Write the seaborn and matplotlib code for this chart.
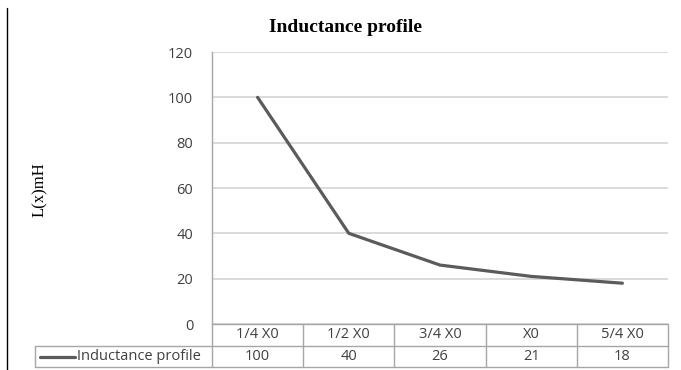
import matplotlib
matplotlib.use("Agg")
import matplotlib.pyplot as plt
import matplotlib.transforms as mtransforms
from matplotlib.lines import Line2D
import seaborn as sns
import pandas as pd

positions = ["1/4 X0", "1/2 X0", "3/4 X0", "X0", "5/4 X0"]
inductance = [100, 40, 26, 21, 18]
series_name = "Inductance profile"
y_ticks = [0, 20, 40, 60, 80, 100, 120]

W, H = 681, 370
sns.set_theme(style="white")
plt.rcParams["font.family"] = ["Open Sans", "DejaVu Sans"]

fig = plt.figure(figsize=(W / 100, H / 100), dpi=100)

def fx(px):
    return px / W

def fy(py):
    return 1 - py / H

left, right, top, bottom = 212, 668, 52, 324
ax = fig.add_axes([fx(left), fy(bottom), fx(right) - fx(left), fy(top) - fy(bottom)])

df = pd.DataFrame({"pos": positions, "L": inductance})
sns.lineplot(data=df, x="pos", y="L", ax=ax, color="#5b5b5b", linewidth=2.3,
             sort=False, legend=False)

ax.set_xlim(-0.5, len(positions) - 0.5)
ax.set_ylim(0, 120)
ax.set_yticks(y_ticks)
ax.set_yticklabels([str(v) for v in y_ticks], fontsize=10.5, color="#404040")
ax.tick_params(axis="y", length=0, pad=13.5)
ax.set_xticks([])
ax.set_xlabel("")
ax.set_ylabel("")
ax.grid(axis="y", color="#d4d4d4", linewidth=1.2)
ax.grid(axis="x", visible=False)
for side in ["top", "right", "bottom"]:
    ax.spines[side].set_visible(False)
ax.spines["left"].set_color("#a6a6a6")
ax.spines["left"].set_linewidth(1.0)

# Title and axis label
fig.text(fx(345), fy(27), "Inductance profile", ha="center", va="center",
         fontsize=14, fontweight="bold", family="Liberation Serif", color="#000000")
fig.text(fx(40), fy(190), "L(x)mH", ha="center", va="center", rotation=90,
         fontsize=12, family="Liberation Serif", color="#000000")

# Left border rule
fig.add_artist(Line2D([fx(7), fx(7)], [fy(8), fy(370)], color="#000000", linewidth=1.0))

# Data table below the plot
grid_c = "#a6a6a6"
r0, r1, r2 = 324, 346, 367
tleft = 35

def hline(x0, x1, y):
    fig.add_artist(Line2D([fx(x0), fx(x1)], [fy(y), fy(y)], color=grid_c, linewidth=1.0))

def vline(x, y0, y1):
    fig.add_artist(Line2D([fx(x), fx(x)], [fy(y0), fy(y1)], color=grid_c, linewidth=1.0))

hline(left, right, r0)
hline(tleft, right, r1)
hline(tleft, right, r2)
vline(tleft, r1, r2)
vline(left, r0, r2)
vline(right, r0, r2)

n = len(positions)
col_w = (right - left) / n
for i in range(1, n):
    vline(left + i * col_w, r0, r2)

blend = mtransforms.blended_transform_factory(ax.transData, fig.transFigure)
for i, (lab, val) in enumerate(zip(positions, inductance)):
    ax.text(i, fy((r0 + r1) / 2), lab, transform=blend, ha="center", va="center",
            fontsize=10.5, color="#404040", clip_on=False)
    ax.text(i, fy((r1 + r2) / 2), str(val), transform=blend, ha="center", va="center",
            fontsize=10.5, color="#404040", clip_on=False)

# Legend key inside the table header cell
fig.add_artist(Line2D([fx(40), fx(75)], [fy(357), fy(357)], color="#5b5b5b", linewidth=2.3))
fig.text(fx(77), fy(357), series_name, ha="left", va="center", fontsize=10.5, color="#404040")

fig.savefig("out.png", dpi=100, facecolor="white")
